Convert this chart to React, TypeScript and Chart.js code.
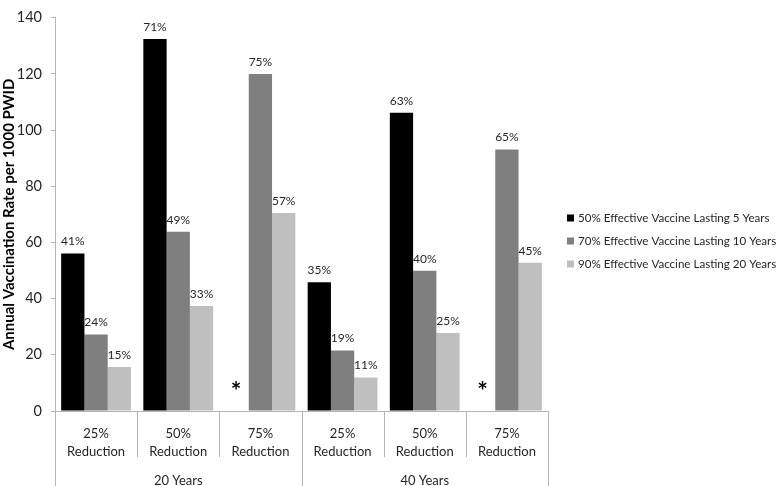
import React, { useEffect, useRef } from "react";
import { Chart, registerables } from "chart.js";

Chart.register(...registerables);

const FONT = "Lato, 'Liberation Sans', sans-serif";

const categories: string[][] = [
  ["25%", "Reduction"],
  ["50%", "Reduction"],
  ["75%", "Reduction"],
  ["25%", "Reduction"],
  ["50%", "Reduction"],
  ["75%", "Reduction"],
];
const groups = ["20 Years", "40 Years"];
const seriesNames = [
  "50% Effective Vaccine Lasting 5 Years",
  "70% Effective Vaccine Lasting 10 Years",
  "90% Effective Vaccine Lasting 20 Years",
];
const vaccine5 = [56.1, 132.4, null, 45.8, 106.2, null];
const vaccine10 = [27.2, 63.8, 120.0, 21.5, 49.9, 93.1];
const vaccine20 = [15.7, 37.4, 70.5, 11.9, 27.8, 52.8];
const labels5 = ["41%", "71%", null, "35%", "63%", null];
const labels10 = ["24%", "49%", "75%", "19%", "40%", "65%"];
const labels20 = ["15%", "33%", "57%", "11%", "25%", "45%"];
const barLabels = [labels5, labels10, labels20];
const seriesColors = ["#000000", "#7f7f7f", "#bfbfbf"];
const yMin = 0;
const yMax = 140;
const yStep = 20;
const yTitle = "Annual Vaccination Rate per 1000 PWID";
const missingMark = "*";

const AXIS_COLOR = "#b4b4b4";
const TEXT_COLOR = "#262626";

const overlay = {
  id: "overlay",
  afterDatasetsDraw(chart: any) {
    const ctx = chart.ctx;
    const area = chart.chartArea;
    chart.data.datasets.forEach((ds: any, di: number) => {
      const meta = chart.getDatasetMeta(di);
      meta.data.forEach((el: any, i: number) => {
        const v = ds.data[i];
        ctx.save();
        ctx.textAlign = "center";
        ctx.textBaseline = "middle";
        if (v == null) {
          ctx.fillStyle = "#000";
          ctx.font = `bold 25px ${FONT}`;
          ctx.fillText(missingMark, el.x - 1, area.bottom - 19);
        } else {
          const t = barLabels[di][i];
          if (t) {
            ctx.fillStyle = TEXT_COLOR;
            ctx.font = `12px ${FONT}`;
            ctx.fillText(t, el.x, el.y - 12);
          }
        }
        ctx.restore();
      });
    });
  },
  afterDraw(chart: any) {
    const ctx = chart.ctx;
    const area = chart.chartArea;
    const xs = chart.scales.x;
    const n = categories.length;
    const w = (xs.right - xs.left) / n;
    const H = chart.height;
    ctx.save();
    ctx.strokeStyle = AXIS_COLOR;
    ctx.lineWidth = 1;
    for (let i = 0; i <= n; i++) {
      const x = Math.round(xs.left + i * w) + 0.5;
      const yEnd = i % 3 === 0 ? H : area.bottom + 46;
      ctx.beginPath();
      ctx.moveTo(x, area.bottom);
      ctx.lineTo(x, yEnd);
      ctx.stroke();
    }
    // group labels
    ctx.fillStyle = TEXT_COLOR;
    ctx.font = `13px ${FONT}`;
    ctx.textAlign = "center";
    ctx.textBaseline = "middle";
    groups.forEach((g, gi) => {
      const cx = xs.left + (gi * 3 + 1.5) * w;
      ctx.fillText(g, cx, area.bottom + 70);
    });
    // legend
    const lx = 567;
    const ly = [218, 241, 264];
    ctx.textAlign = "left";
    ctx.font = `11.6px ${FONT}`;
    seriesNames.forEach((s, si) => {
      ctx.fillStyle = seriesColors[si];
      ctx.fillRect(lx, ly[si] - 3.5, 7, 7);
      ctx.fillStyle = TEXT_COLOR;
      ctx.fillText(s, lx + 11, ly[si]);
    });
    ctx.restore();
  },
};

export default function App() {
  const ref = useRef<HTMLCanvasElement | null>(null);
  useEffect(() => {
    if (!ref.current) return;
    const chart = new Chart(ref.current, {
      type: "bar",
      data: {
        labels: categories,
        datasets: [vaccine5, vaccine10, vaccine20].map((d, i) => ({
          label: seriesNames[i],
          data: d as any,
          backgroundColor: seriesColors[i],
          borderWidth: 0,
          categoryPercentage: 0.85,
          barPercentage: 1.0,
        })),
      },
      options: {
        animation: false,
        responsive: false,
        maintainAspectRatio: false,
        layout: { padding: { top: 5, right: 229, bottom: 0, left: 0 } },
        plugins: {
          legend: { display: false },
          tooltip: { enabled: false },
        },
        scales: {
          x: {
            grid: { display: false, drawTicks: false },
            border: { display: true, color: AXIS_COLOR },
            ticks: {
              autoSkip: false,
              maxRotation: 0,
              color: TEXT_COLOR,
              font: { family: FONT, size: 13, lineHeight: 1.4 },
              padding: 14,
            },
            afterFit(scale: any) {
              scale.height = 75;
            },
          },
          y: {
            min: yMin,
            max: yMax,
            ticks: {
              stepSize: yStep,
              color: TEXT_COLOR,
              font: { family: FONT, size: 14.5 },
              padding: 9,
            },
            grid: {
              display: true,
              drawOnChartArea: false,
              drawTicks: true,
              tickLength: 4,
              color: AXIS_COLOR,
            },
            border: { display: true, color: AXIS_COLOR },
            title: {
              display: true,
              text: yTitle,
              color: "#000",
              font: { family: FONT, size: 15, weight: "bold" },
              padding: { top: 0, bottom: 0 },
            },
            afterFit(scale: any) {
              scale.width = 55;
            },
          },
        },
      },
      plugins: [overlay],
    });
    return () => chart.destroy();
  }, []);
  return (
    <div style={{ position: "fixed", left: 0, top: 0, width: 777, height: 486, background: "#fff" }}>
      <canvas ref={ref} width={777} height={486} style={{ width: 777, height: 486 }} />
    </div>
  );
}
